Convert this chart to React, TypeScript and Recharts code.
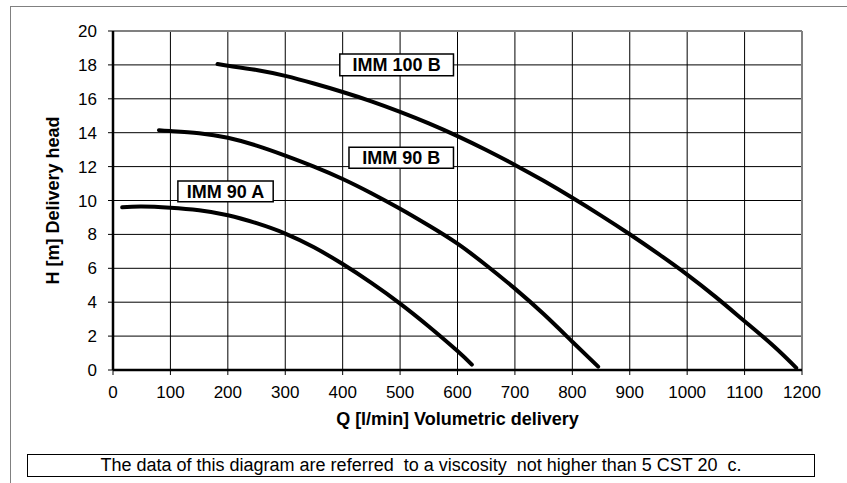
import {
  LineChart, Line, XAxis, YAxis, CartesianGrid,
  ReferenceLine, ReferenceArea,
} from 'recharts';

// Axis ticks
const Q_TICKS = [0, 100, 200, 300, 400, 500, 600, 700, 800, 900, 1000, 1100, 1200];
const H_TICKS = [0, 2, 4, 6, 8, 10, 12, 14, 16, 18, 20];

// Pump curves, Q [l/min] vs H [m]
const IMM_90_A_Q = [16, 50, 100, 150, 200, 250, 300, 350, 400, 450, 500, 550, 600, 625];
const IMM_90_A_H = [9.6, 9.64, 9.57, 9.42, 9.13, 8.66, 8.05, 7.24, 6.25, 5.14, 3.92, 2.57, 1.12, 0.32];

const IMM_90_B_Q = [80, 100, 150, 200, 250, 300, 350, 400, 450, 500, 550, 600, 650, 700, 750, 800, 845];
const IMM_90_B_H = [14.15, 14.1, 13.97, 13.7, 13.24, 12.65, 12.0, 11.27, 10.43, 9.51, 8.52, 7.45, 6.18, 4.8, 3.3, 1.67, 0.2];

const IMM_100_B_Q = [182, 200, 250, 300, 350, 400, 450, 500, 550, 600, 650, 700, 750, 800, 850, 900, 950, 1000, 1050, 1100, 1150, 1190];
const IMM_100_B_H = [18.05, 17.95, 17.7, 17.35, 16.9, 16.4, 15.85, 15.23, 14.55, 13.8, 12.98, 12.1, 11.16, 10.16, 9.11, 8.01, 6.85, 5.63, 4.3, 2.88, 1.43, 0.13];

const SERIES_NAMES = ['IMM 90 A', 'IMM 90 B', 'IMM 100 B'];

const X_TITLE = 'Q [l/min] Volumetric delivery';
const Y_TITLE = 'H [m] Delivery head';
const NOTE = 'The data of this diagram are referred  to a viscosity  not higher than 5 CST 20  c.';

const toPoints = (q: number[], h: number[]) => q.map((x, i) => ({ q: x, h: h[i] }));

const SERIES = [
  { name: SERIES_NAMES[0], data: toPoints(IMM_90_A_Q, IMM_90_A_H) },
  { name: SERIES_NAMES[1], data: toPoints(IMM_90_B_Q, IMM_90_B_H) },
  { name: SERIES_NAMES[2], data: toPoints(IMM_100_B_Q, IMM_100_B_H) },
];

// where the name boxes sit, in chart units
const NAME_BOXES = [
  { name: SERIES_NAMES[0], x1: 113, x2: 279, y1: 9.93, y2: 11.15 },
  { name: SERIES_NAMES[1], x1: 411, x2: 593, y1: 11.9, y2: 13.14 },
  { name: SERIES_NAMES[2], x1: 395, x2: 593, y1: 17.36, y2: 18.64 },
];

const FONT = "'Liberation Sans', Arial, sans-serif";
const GRID_GREY = '#808080';

export default function App() {
  return (
    <div style={{
      position: 'fixed', left: 0, top: 0, width: 847, height: 483,
      background: '#fff', overflow: 'hidden', fontFamily: FONT,
    }}>
      {/* outer frame, only top and left edges are visible */}
      <div style={{
        position: 'absolute', left: 10, top: 6, width: 900, height: 600,
        border: `1px solid ${GRID_GREY}`, boxSizing: 'border-box',
      }} />

      <div style={{ position: 'absolute', left: 0, top: 0 }}>
        <LineChart
          width={847}
          height={483}
          margin={{ top: 31, right: 45, left: 0, bottom: 0 }}
        >
          <CartesianGrid stroke="#000" strokeWidth={1} />
          <XAxis
            type="number"
            dataKey="q"
            domain={[0, 1200]}
            ticks={Q_TICKS}
            interval={0}
            height={113}
            tickSize={5}
            tickMargin={11}
            axisLine={{ stroke: '#000', strokeWidth: 2.5 }}
            tickLine={{ stroke: '#000', strokeWidth: 1 }}
            tick={{ fontSize: 17, fill: '#000' }}
            label={{
              value: X_TITLE, position: 'insideBottom', offset: 58,
              style: { fontSize: 18, fontWeight: 700, fill: '#000' },
            }}
          />
          <YAxis
            type="number"
            dataKey="h"
            domain={[0, 20]}
            ticks={H_TICKS}
            interval={0}
            width={113}
            tickSize={5}
            tickMargin={11}
            axisLine={{ stroke: '#000', strokeWidth: 2.5 }}
            tickLine={{ stroke: '#000', strokeWidth: 1 }}
            tick={{ fontSize: 17, fill: '#000' }}
            label={{
              value: Y_TITLE, angle: -90, position: 'insideLeft', offset: 53,
              style: { fontSize: 18, fontWeight: 700, fill: '#000', textAnchor: 'middle' },
            }}
          />

          <ReferenceLine y={20} stroke={GRID_GREY} strokeWidth={2} />
          <ReferenceLine x={1200} stroke={GRID_GREY} strokeWidth={2} />

          {SERIES.map((s) => (
            <Line
              key={s.name}
              data={s.data}
              dataKey="h"
              name={s.name}
              type="natural"
              stroke="#000"
              strokeWidth={4}
              strokeLinecap="round"
              dot={false}
              activeDot={false}
              isAnimationActive={false}
            />
          ))}

          {NAME_BOXES.map((b) => (
            <ReferenceArea
              key={b.name}
              x1={b.x1} x2={b.x2} y1={b.y1} y2={b.y2}
              fill="#fff" fillOpacity={1}
              stroke="#000" strokeWidth={1.5}
              label={{
                value: b.name, position: 'center',
                style: { fontSize: 18, fontWeight: 700, fill: '#000' },
              }}
            />
          ))}
        </LineChart>
      </div>

      {/* viscosity note */}
      <div style={{
        position: 'absolute', left: 27, top: 454, width: 788, height: 23,
        border: '1.5px solid #000', boxSizing: 'border-box',
        fontSize: 18, lineHeight: '21px', textAlign: 'center', color: '#000',
        whiteSpace: 'pre',
      }}>
        {NOTE}
      </div>
    </div>
  );
}
